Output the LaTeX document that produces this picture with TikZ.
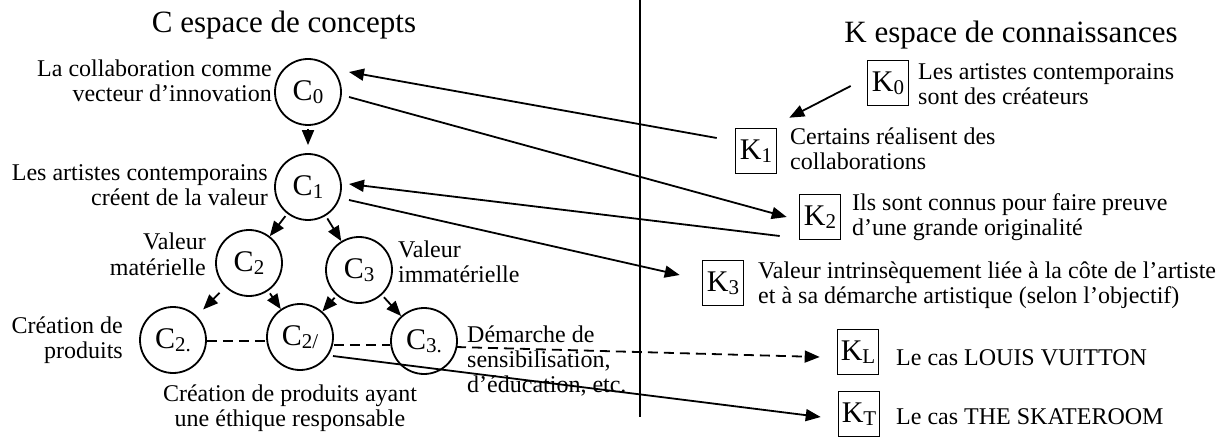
\documentclass[tikz,border=0pt]{standalone}
\usepackage{fontspec}
\setmainfont{Liberation Serif}
\usetikzlibrary{arrows.meta,calc}
\newcommand{\CKlab}[2]{{\fontsize{30}{30}\selectfont #1}\raisebox{-3pt}{\fontsize{21}{21}\selectfont #2}}
\begin{document}
\begin{tikzpicture}[x=1pt,y=-1pt,
  cnode/.style={circle,draw,line width=1.8pt,minimum size=66pt,inner sep=0pt},
  kbox/.style={draw,line width=1.6pt,minimum width=41pt,minimum height=45pt,inner sep=0pt},
  lbl/.style={inner sep=0pt,font=\fontsize{24}{25}\selectfont},
  ttl/.style={inner sep=0pt,font=\fontsize{31}{31}\selectfont},
  arr/.style={line width=1.8pt,-{Triangle[length=15pt,width=12pt]}},
  ln/.style={line width=1.8pt},
  dsh/.style={dash pattern=on 10pt off 6pt}]
\useasboundingbox (0,0) rectangle (1230,438);
\fill[white] (0,0) rectangle (1230,438);
% titles
\node[ttl,anchor=base] (tC) at (284,33) {C espace de concepts};
\node[ttl,anchor=base] (tK) at (1011,43) {K espace de connaissances};
% separator
\coordinate (sepT) at (640,0);
\coordinate (sepB) at (640,417);
\draw[ln] (sepT) -- (sepB);
% concept nodes
\node[cnode] (C0) at (308,92) {\CKlab{C}{0}};
\node[cnode] (C1) at (308,187) {\CKlab{C}{1}};
\node[cnode] (C2) at (249,263) {\CKlab{C}{2}};
\node[cnode] (C3) at (359,270) {\CKlab{C}{3}};
\node[cnode] (C21) at (173,340) {\CKlab{C}{2.}};
\node[cnode] (C22) at (300,337) {\CKlab{C}{2/}};
\node[cnode] (C31) at (424,341) {\CKlab{C}{3.}};
% knowledge boxes
\node[kbox] (K0) at (888,83) {\CKlab{K}{0}};
\node[kbox] (K1) at (756,151) {\CKlab{K}{1}};
\node[kbox] (K2) at (820,217) {\CKlab{K}{2}};
\node[kbox] (K3) at (723,283) {\CKlab{K}{3}};
\node[kbox] (KL) at (858,352) {\CKlab{K}{L}};
\node[kbox] (KT) at (859,414) {\CKlab{K}{T}};
% concept labels (base = last line)
\node[lbl,anchor=base east,align=right] (lC0) at (272,102) {La collaboration comme\\vecteur d’innovation};
\node[lbl,anchor=base east,align=right] (lC1) at (268,206) {Les artistes contemporains\\créent de la valeur};
\node[lbl,anchor=base east,align=right] (lC2) at (206,275) {Valeur\\matérielle};
\node[lbl,anchor=base west,align=left] (lC3) at (398,282) {Valeur\\immatérielle};
\node[lbl,anchor=base east,align=right] (lC21) at (123,358) {Création de\\produits};
\node[lbl,anchor=base,align=center] (lC22) at (290,426) {Création de produits ayant\\une éthique responsable};
\node[lbl,anchor=base west,align=left] (lC31) at (467,392) {Démarche de\\sensibilisation,\\d’éducation, etc.};
% knowledge labels
\node[lbl,anchor=base west,align=left] (lK0) at (918,105) {Les artistes contemporains\\sont des créateurs};
\node[lbl,anchor=base west,align=left] (lK1) at (790,170) {Certains réalisent des\\collaborations};
\node[lbl,anchor=base west,align=left] (lK2) at (852,236) {Ils sont connus pour faire preuve\\d’une grande originalité};
\node[lbl,anchor=base west,align=left] (lK3) at (758,303) {Valeur intrinsèquement liée à la côte de l’artiste\\et à sa démarche artistique (selon l’objectif)};
\node[lbl,anchor=base west] (lKL) at (896,365) {Le cas LOUIS VUITTON};
\node[lbl,anchor=base west] (lKT) at (896,424) {Le cas THE SKATEROOM};
% tree arrows
\draw[arr,shorten <=3pt,shorten >=8pt] (C0) -- (C1);
\draw[arr,shorten <=3pt] (C1) -- (C2);
\draw[arr,shorten <=3pt] (C1) -- (C3);
\draw[arr,shorten <=8pt,shorten >=9pt] (C2) -- (C21);
\draw[arr,shorten <=3pt] (C2) -- (C22);
\draw[arr,shorten <=3pt] (C3) -- (C22);
\draw[arr,shorten <=3pt] (C3) -- (C31);
% dashed links
\draw[ln,dsh] ($(C21.east)+(0,1)$) -- ($(C22.west)+(0,4)$);
\draw[ln,dsh] ($(C22.east)+(0,8)$) -- ($(C31.west)+(0,4)$);
% long arrows
\draw[arr] ($(K1.west)+(-18,-13)$) -- ($(C0)+(41,-20)$);
\draw[arr] ($(C0)+(41,5)$) -- ($(K2.west)+(-12,0)$);
\draw[arr] ($(K2.west)+(-19,19)$) -- ($(C1)+(41,-3)$);
\draw[arr] ($(C1)+(41,13)$) -- ($(K3.west)+(-22,-8)$);
\draw[arr] ($(K0.west)+(-16,3)$) -- ($(K1.north east)+(12,-10)$);
\draw[arr,dsh] ($(C31)+(32,6)$) -- ($(KL.west)+(-17,5)$);
\draw[arr] ($(C22)+(33,19)$) -- ($(KT.west)+(-17,3)$);
\end{tikzpicture}
\end{document}
